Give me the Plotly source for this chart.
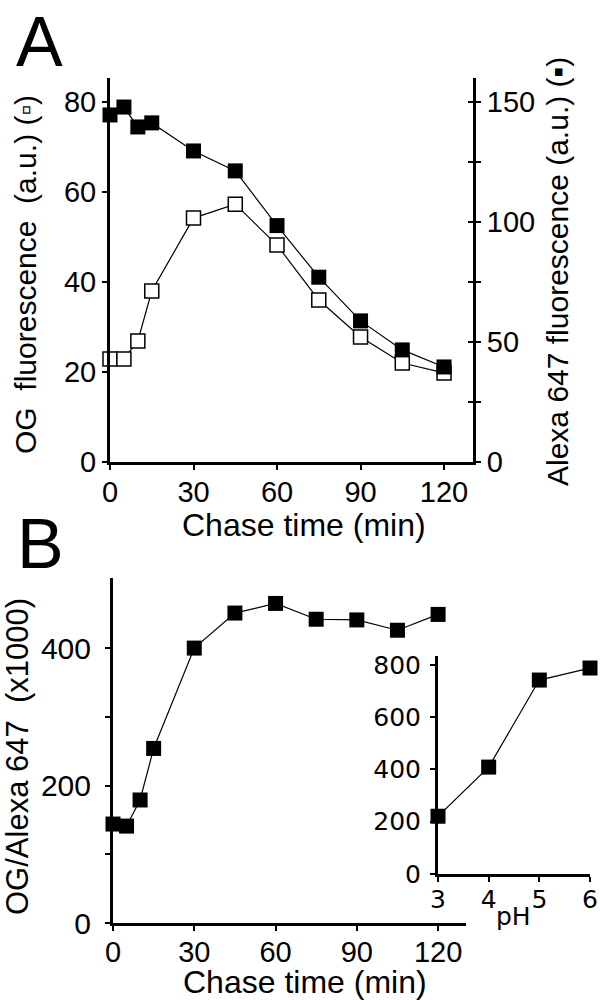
import plotly.graph_objects as go

# ---- Data ----
time_a = [0, 5, 10, 15, 30, 45, 60, 75, 90, 105, 120]
og_fluor = [22.9, 22.9, 26.9, 38.0, 54.2, 57.3, 48.2, 36.0, 27.8, 22.0, 19.8]
alexa_fluor = [144.6, 147.9, 139.6, 141.3, 129.6, 121.3, 98.5, 77.0, 58.8, 46.7, 39.6]

time_b = [0, 5, 10, 15, 30, 45, 60, 75, 90, 105, 120]
ratio_b = [144, 141, 179, 254, 400, 451, 465, 442, 441, 426, 449]

ph_vals = [3, 4, 5, 6]
ratio_ph = [221, 409, 742, 788]

xticks_time = [0, 30, 60, 90, 120]
yticks_og = [0, 20, 40, 60, 80]
yticks_alexa = [0, 50, 100, 150]
yticks_ratio = [0, 200, 400]
yticks_inset = [0, 200, 400, 600, 800]
xticks_ph = [3, 4, 5, 6]

W, H = 600, 1000
def px(x):
    return x / W
def py(y):
    return 1 - y / H

ARIAL = "Liberation Sans, Arial, sans-serif"
DEJAVU = "DejaVu Sans, sans-serif"

fig = go.Figure()

line_style = dict(color="black", width=1.2)

fig.add_trace(go.Scatter(x=time_a, y=og_fluor, mode="lines+markers", xaxis="x", yaxis="y",
                         line=line_style, cliponaxis=False,
                         marker=dict(symbol="square", size=14, color="white",
                                     line=dict(color="black", width=1.5))))
fig.add_trace(go.Scatter(x=time_a, y=alexa_fluor, mode="lines+markers", xaxis="x", yaxis="y2",
                         line=line_style, cliponaxis=False,
                         marker=dict(symbol="square", size=15, color="black",
                                     line=dict(color="black", width=0))))
# dummy trace so the inside-tick overlay axis is drawn
fig.add_trace(go.Scatter(x=[None], y=[None], xaxis="x", yaxis="y3", showlegend=False,
                         hoverinfo="skip"))

fig.add_trace(go.Scatter(x=time_b, y=ratio_b, mode="lines+markers", xaxis="x2", yaxis="y4",
                         line=line_style, cliponaxis=False,
                         marker=dict(symbol="square", size=15, color="black", line=dict(width=0))))
fig.add_trace(go.Scatter(x=ph_vals, y=ratio_ph, mode="lines+markers", xaxis="x3", yaxis="y5",
                         line=line_style, cliponaxis=False,
                         marker=dict(symbol="square", size=15, color="black", line=dict(width=0))))

axis_common = dict(showgrid=False, zeroline=False, showline=True, linecolor="black", linewidth=3,
                   ticks="outside", ticklen=5, tickwidth=1.5, tickcolor="black", automargin=False)

fig.update_layout(
    width=W, height=H, margin=dict(l=0, r=0, t=0, b=0, autoexpand=False),
    paper_bgcolor="white", plot_bgcolor="white", showlegend=False,
    xaxis=dict(axis_common, domain=[px(110), px(473)], range=[0, 130.4], anchor="y",
               tickvals=xticks_time, ticklabelstandoff=-3,
               tickfont=dict(family=ARIAL, size=29, color="black")),
    yaxis=dict(axis_common, domain=[py(462), py(78)], range=[0, 85.33], anchor="x",
               tickvals=yticks_og, tickfont=dict(family=ARIAL, size=29, color="black")),
    yaxis2=dict(axis_common, domain=[py(462), py(78)], range=[0, 160], anchor="x",
                overlaying="y", side="right",
                tickvals=[0, 25, 50, 75, 100, 125, 150],
                ticktext=["0", "", "50", "", "100", "", "150"],
                tickfont=dict(family=ARIAL, size=29, color="black")),
    yaxis3=dict(showgrid=False, zeroline=False, showline=False, range=[0, 160], anchor="x",
                overlaying="y", side="right", ticks="inside", ticklen=5, tickwidth=1.5,
                tickcolor="black", tickvals=[25, 50, 75, 100, 125, 150], showticklabels=False,
                automargin=False),
    xaxis2=dict(axis_common, domain=[px(113), px(466)], range=[0, 130.3], anchor="y4",
                tickvals=xticks_time, ticklabelstandoff=-4,
                tickfont=dict(family=ARIAL, size=29, color="black")),
    yaxis4=dict(axis_common, domain=[py(923), py(578)], range=[0, 502], anchor="x2",
                tickvals=yticks_ratio, ticklabelstandoff=8,
                minor=dict(tickvals=[100, 300], ticks="outside", ticklen=5,
                           tickwidth=1.5, tickcolor="black"),
                tickfont=dict(family=ARIAL, size=30, color="black")),
    xaxis3=dict(axis_common, domain=[px(438), px(590)], range=[3, 6], anchor="y5",
                tickvals=xticks_ph, ticklabelstandoff=-4,
                tickfont=dict(family=DEJAVU, size=25, color="black")),
    yaxis5=dict(axis_common, domain=[py(874), py(656)], range=[0, 834], anchor="x3",
                tickvals=yticks_inset, ticklabelstandoff=4,
                tickfont=dict(family=DEJAVU, size=25, color="black")),
)

annotations = [
    dict(text="A", x=px(39), y=py(42), font=dict(family=ARIAL, size=70)),
    dict(text="B", x=px(40), y=py(544), font=dict(family=ARIAL, size=70)),
    dict(text="OG  fluorescence  (a.u.) (▫)", x=px(25), y=py(275), textangle=-90,
         font=dict(family=ARIAL, size=30)),
    dict(text="Alexa 647 fluorescence (a.u.) (▪)", x=px(557), y=py(272), textangle=-90,
         font=dict(family=ARIAL, size=30)),
    dict(text="Chase time (min)", x=px(304), y=py(525), font=dict(family=ARIAL, size=32)),
    dict(text="Chase time (min)", x=px(305), y=py(982), font=dict(family=ARIAL, size=32)),
    dict(text="OG/Alexa 647  (x1000)", x=px(17), y=py(757), textangle=-90,
         font=dict(family=ARIAL, size=31)),
    dict(text="pH", x=px(513), y=py(916), font=dict(family=DEJAVU, size=25)),
]
for a in annotations:
    a.update(xref="paper", yref="paper", showarrow=False, xanchor="center", yanchor="middle")
    a["font"]["color"] = "black"
fig.update_layout(annotations=annotations)

fig.write_html("out.html", config={"displayModeBar": False},
               post_script="document.body.style.margin='0';document.body.style.overflow='hidden';")
